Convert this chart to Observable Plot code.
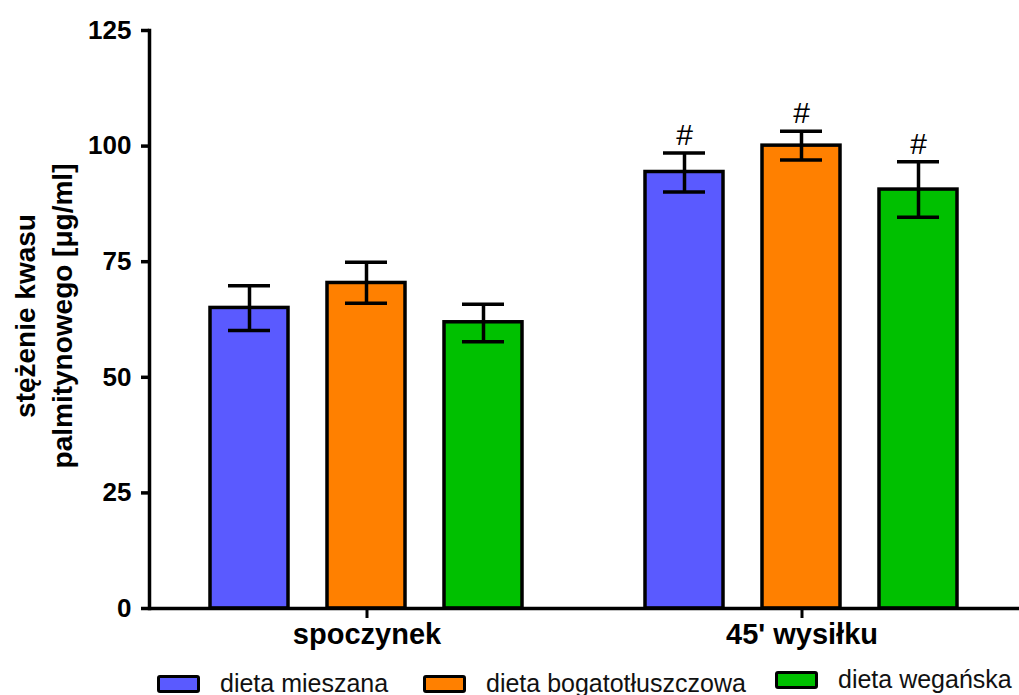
<!DOCTYPE html>
<html>
<head>
<meta charset="utf-8">
<script src="https://cdn.jsdelivr.net/npm/d3@7"></script>
<script src="https://cdn.jsdelivr.net/npm/@observablehq/plot@0.6"></script>
<style>
  html, body { margin: 0; padding: 0; background: #fff; }
  #wrap { position: relative; width: 1019px; }
  .legend { position: relative; width: 1019px; height: 33px; font-family: "Liberation Sans", Arial, sans-serif; font-size: 25px; color: #111; }
  .legend .item { position: absolute; top: 0; height: 33px; }
  .legend .swatch { position: absolute; left: 0; width: 43px; height: 18px; box-sizing: border-box; border: 3.5px solid #000; border-radius: 3px; }
  .legend .name { position: absolute; white-space: nowrap; line-height: 25px; }
</style>
</head>
<body>
<div id="wrap"></div>
<script>
// Groups (time points) and diets
const groups = ["spoczynek", "45' wysiłku"];
const diets = ["dieta mieszana", "dieta bogatotłuszczowa", "dieta wegańska"];
const dietColors = ["#5a5aff", "#ff8000", "#00c000"];

// Palmitic acid concentration [µg/ml]: mean and error-bar ends per diet
const restMean = [65.0, 70.4, 61.9];
const restLow  = [60.1, 66.0, 57.7];
const restHigh = [69.8, 74.9, 65.8];
const exerMean = [94.4, 100.1, 90.6];
const exerLow  = [90.1, 97.0, 84.6];
const exerHigh = [98.5, 103.2, 96.6];

// Significance mark shown above each group's bars
const groupMarks = ["", "#"];

const yTicks = [0, 25, 50, 75, 100, 125];
const yLabelLines = ["stężenie kwasu", "palmitynowego [μg/ml]"];

const series = [
  {mean: restMean, low: restLow, high: restHigh},
  {mean: exerMean, low: exerLow, high: exerHigh}
];
const rows = groups.flatMap((g, gi) => diets.map((d, di) => ({
  group: g,
  diet: d,
  mean: series[gi].mean[di],
  low: series[gi].low[di],
  high: series[gi].high[di],
  mark: groupMarks[gi]
})));

const lw = 3.5;
const chart = Plot.plot({
  width: 1019,
  height: 662,
  marginTop: 30,
  marginBottom: 54,
  marginLeft: 148,
  marginRight: 0,
  style: {fontFamily: "'Liberation Sans', Arial, sans-serif", fontSize: "26px", fontWeight: "bold", color: "#000", background: "#fff"},
  fx: {domain: groups, paddingInner: 0, paddingOuter: 0, label: null, axis: null},
  x: {domain: diets, paddingInner: 0.33, paddingOuter: 0.51, axis: null},
  y: {domain: [0, 125], axis: null},
  color: {domain: diets, range: dietColors},
  marks: [
    Plot.axisY({ticks: yTicks, tickSize: 8, tickPadding: 10, strokeWidth: lw, label: null, fontSize: 26, tickFormat: d => String(d)}),
    Plot.frame({anchor: "left", facetAnchor: "left", strokeWidth: lw}),
    Plot.barY(rows, {fx: "group", x: "diet", y: "mean", fill: "diet", stroke: "#000", strokeWidth: lw}),
    Plot.ruleX(rows, {fx: "group", x: "diet", y1: "low", y2: "high", stroke: "#000", strokeWidth: lw}),
    Plot.tickY(rows, {fx: "group", x: "diet", y: "low", stroke: "#000", strokeWidth: lw, insetLeft: 18, insetRight: 18}),
    Plot.tickY(rows, {fx: "group", x: "diet", y: "high", stroke: "#000", strokeWidth: lw, insetLeft: 18, insetRight: 18}),
    Plot.text(rows.filter(d => d.mark), {fx: "group", x: "diet", y: "high", text: "mark", dy: -8, lineAnchor: "bottom", fontSize: 30, fontWeight: "normal", fill: "#000"}),
    Plot.ruleY([0], {stroke: "#000", strokeWidth: lw}),
    Plot.axisFx({anchor: "bottom", tickSize: 10, tickPadding: 5, strokeWidth: 3, label: null, fontSize: 29})
  ]
});

const wrap = document.getElementById("wrap");
wrap.appendChild(chart);

// Rotated two-line y-axis title drawn into the chart's SVG
const svg = d3.select(chart.tagName.toLowerCase() === "svg" ? chart : chart.querySelector("svg"));
const yl = svg.append("text")
  .attr("transform", "translate(35,316) rotate(-90)")
  .attr("text-anchor", "middle")
  .attr("font-size", 28)
  .attr("font-weight", "bold")
  .attr("fill", "#000");
yLabelLines.forEach((line, i) => {
  yl.append("tspan").attr("x", 0).attr("dy", i === 0 ? 0 : 37).text(line);
});

// Legend below the chart
const legendLeft = [157, 423, 775];
const legendLift = [0, 0, 4];
const legend = document.createElement("div");
legend.className = "legend";
diets.forEach((d, i) => {
  const item = document.createElement("div");
  item.className = "item";
  item.style.left = legendLeft[i] + "px";
  item.style.top = -legendLift[i] + "px";
  const sw = document.createElement("span");
  sw.className = "swatch";
  sw.style.background = dietColors[i];
  sw.style.top = "13px";
  const nm = document.createElement("span");
  nm.className = "name";
  nm.style.left = "63px";
  nm.style.top = "9px";
  nm.textContent = d;
  item.appendChild(sw);
  item.appendChild(nm);
  legend.appendChild(item);
});
wrap.appendChild(legend);
</script>
</body>
</html>
